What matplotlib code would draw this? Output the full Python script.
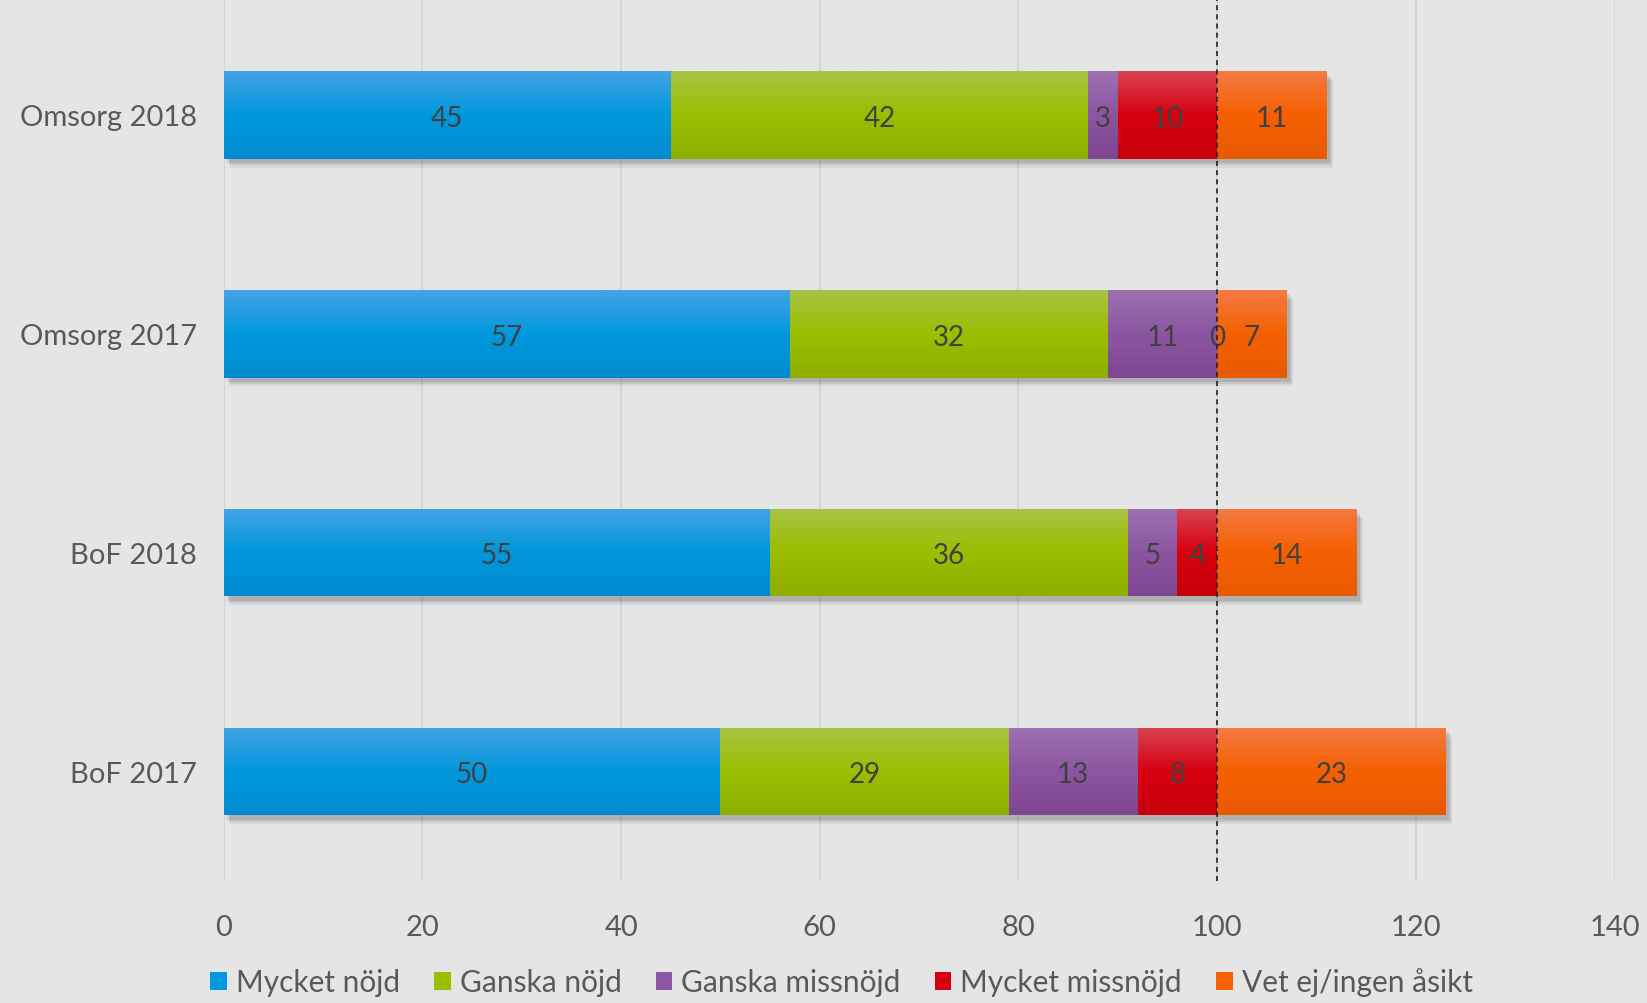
import numpy as np
import matplotlib.pyplot as plt
from matplotlib.colors import to_rgb
from matplotlib.patches import Patch, Rectangle

plt.rcParams['font.family'] = ['Lato', 'DejaVu Sans']

categories = ['Omsorg 2018', 'Omsorg 2017', 'BoF 2018', 'BoF 2017']
series = ['Mycket nöjd', 'Ganska nöjd', 'Ganska missnöjd', 'Mycket missnöjd', 'Vet ej/ingen åsikt']
values = {
    'Mycket nöjd': [45, 57, 55, 50],
    'Ganska nöjd': [42, 32, 36, 29],
    'Ganska missnöjd': [3, 11, 5, 13],
    'Mycket missnöjd': [10, 0, 4, 8],
    'Vet ej/ingen åsikt': [11, 7, 14, 23],
}
# (top, middle, bottom) shades for each series
shades = {
    'Mycket nöjd': ('#45a3e3', '#0098de', '#008bd0'),
    'Ganska nöjd': ('#a8c244', '#9cbe00', '#8eae00'),
    'Ganska missnöjd': ('#9d70b0', '#8b56a1', '#7f4692'),
    'Mycket missnöjd': ('#d84352', '#d7000f', '#c8000c'),
    'Vet ej/ingen åsikt': ('#f47a43', '#f56000', '#e85a00'),
}
xticks = [0, 20, 40, 60, 80, 100, 120, 140]

bg = '#e5e5e5'
text_col = '#595959'

fig = plt.figure(figsize=(16.47, 10.04), dpi=100, facecolor=bg)
ax = fig.add_axes([0.1358, 0.1215, 0.8445, 0.8785], facecolor=bg)

y = np.arange(len(categories))
bar_h = 0.40


def gradient(cols, n=64):
    c = np.array([to_rgb(k) for k in cols])
    t = np.linspace(0, 1, n)
    top = np.clip(t * 2, 0, 1)[:, None]
    bot = np.clip(t * 2 - 1, 0, 1)[:, None]
    img = np.where(t[:, None] < 0.5,
                   c[0] * (1 - top) + c[1] * top,
                   c[1] * (1 - bot) + c[2] * bot)
    return img[:, None, :]


left = np.zeros(len(categories))
for s in series:
    vals = np.array(values[s], dtype=float)
    # soft drop shadow
    for k, a in enumerate([0.10, 0.08, 0.06]):
        off = 0.6 + 0.25 * k
        for yi, l, v in zip(y, left, vals):
            if v > 0:
                ax.add_patch(Rectangle((l + off * 0.6, yi - bar_h / 2 + 0.02 + 0.01 * k), v, bar_h,
                                       facecolor='black', alpha=a, lw=0, zorder=1))
    left += vals

left = np.zeros(len(categories))
for s in series:
    vals = np.array(values[s], dtype=float)
    bars = ax.barh(y, vals, left=left, height=bar_h, color=shades[s][1],
                   label=s, zorder=2, lw=0)
    img = gradient(shades[s])
    for b in bars:
        if b.get_width() <= 0:
            continue
        x0, y0 = b.get_x(), b.get_y()
        im = ax.imshow(img, extent=(x0, x0 + b.get_width(), y0 + b.get_height(), y0),
                       aspect='auto', zorder=3, interpolation='bilinear')
        im.set_clip_path(b)
    texts = ax.bar_label(bars, labels=[f'{int(v)}' for v in vals], label_type='center',
                         fontsize=20, color='#404040', zorder=5)
    for t in texts:
        t.xyann = (0, -2)
    left += vals

ax.axvline(100, color='#222222', lw=1.2, ls=(0, (3, 2.5)), zorder=6)

ax.set_xlim(0, 140)
ax.set_ylim(3.5, -0.53)
ax.set_xticks(xticks)
ax.set_yticks(y)
ax.set_yticklabels(categories)
ax.xaxis.grid(True, color='#d5d5d5', lw=1.5, zorder=0)
ax.set_axisbelow(True)
for sp in ax.spines.values():
    sp.set_visible(False)
ax.tick_params(length=0, labelsize=21, colors=text_col)
ax.tick_params(axis='x', pad=24)
ax.tick_params(axis='y', pad=19)

handles = [Patch(facecolor=shades[s][1], label=s) for s in series]
fig.legend(handles=handles, loc='center', bbox_to_anchor=(0.511, 0.021), ncol=5,
           frameon=False, fontsize=21.5, labelcolor=text_col, handlelength=0.55,
           handleheight=0.55, handletextpad=0.3, columnspacing=1.15)

fig.savefig('out.png', dpi=100, facecolor=bg)
